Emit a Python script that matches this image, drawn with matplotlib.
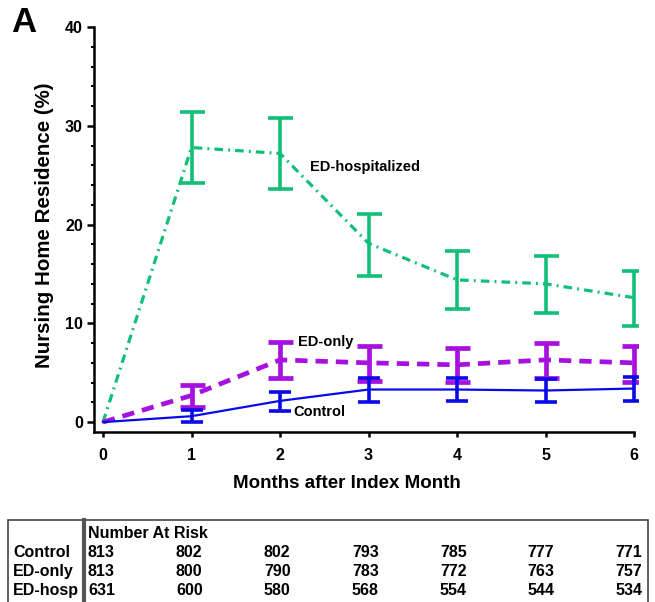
import matplotlib
matplotlib.use("Agg")
import matplotlib.pyplot as plt
from matplotlib.patches import Rectangle
from matplotlib.lines import Line2D
import numpy as np

plt.rcParams['font.family'] = ['Liberation Sans', 'DejaVu Sans']
plt.rcParams['font.weight'] = 'bold'

months = [0, 1, 2, 3, 4, 5, 6]

ctrl = [0, 0.6, 2.15, 3.3, 3.3, 3.2, 3.4]
ctrl_lo = [0, 0.03, 1.1, 2.0, 2.15, 2.0, 2.1]
ctrl_hi = [0, 1.2, 3.1, 4.5, 4.5, 4.4, 4.6]

edonly = [0, 2.7, 6.3, 6.0, 5.8, 6.3, 6.0]
edonly_lo = [0, 1.5, 4.5, 4.2, 4.1, 4.45, 4.1]
edonly_hi = [0, 3.8, 8.15, 7.7, 7.5, 8.05, 7.75]

edhosp = [0, 27.8, 27.2, 18.1, 14.4, 14.0, 12.6]
edhosp_lo = [0, 24.2, 23.6, 14.8, 11.5, 11.0, 9.7]
edhosp_hi = [0, 31.4, 30.8, 21.1, 17.3, 16.8, 15.3]

risk_rows = ["Control", "ED-only", "ED-hosp"]
risk_ctrl = [813, 802, 802, 793, 785, 777, 771]
risk_edonly = [813, 800, 790, 783, 772, 763, 757]
risk_edhosp = [631, 600, 580, 568, 554, 544, 534]

GREEN = '#12bf78'
PURPLE = '#a611e0'
BLUE = '#0a0ae8'

W, H = 655, 602
fig = plt.figure(figsize=(W/100, H/100), dpi=100)
left_px, right_px, top_px, bot_px = 94, 638, 27, 432
ax = fig.add_axes([left_px/W, 1-bot_px/H, (right_px-left_px)/W, (bot_px-top_px)/H])

def errs(c, lo, hi):
    c = np.array(c); lo = np.array(lo); hi = np.array(hi)
    return np.vstack([c-lo, hi-c])

idx = slice(1, None)
m = np.array(months)

# green
ax.plot(months, edhosp, color=GREEN, lw=2.3, linestyle=(0, (2.7, 1.6, 0.6, 1.6)), zorder=2)
ax.errorbar(m[idx], np.array(edhosp)[idx], yerr=errs(edhosp, edhosp_lo, edhosp_hi)[:, idx],
            fmt='none', ecolor=GREEN, elinewidth=2.6, capsize=9, capthick=2.6, zorder=2)
# purple
ax.plot(months, edonly, color=PURPLE, lw=3.4, linestyle=(0, (2.6, 1.7)), zorder=3)
ax.errorbar(m[idx], np.array(edonly)[idx], yerr=errs(edonly, edonly_lo, edonly_hi)[:, idx],
            fmt='none', ecolor=PURPLE, elinewidth=3.4, capsize=9, capthick=3.4, zorder=3)
# blue
ax.plot(months, ctrl, color=BLUE, lw=1.6, zorder=4)
ax.errorbar(m[idx], np.array(ctrl)[idx], yerr=errs(ctrl, ctrl_lo, ctrl_hi)[:, idx],
            fmt='none', ecolor=BLUE, elinewidth=2.6, capsize=8, capthick=2.6, zorder=4)

ax.text(2.34, 25.8, "ED-hospitalized", fontsize=10.5, fontweight='bold', va='center', ha='left')
ax.text(2.2, 8.1, "ED-only", fontsize=10.5, fontweight='bold', va='center', ha='left')
ax.text(2.15, 1.0, "Control", fontsize=10.5, fontweight='bold', va='center', ha='left')

x0px, x6px = 103, 634
ppu = (x6px - x0px) / 6
ax.set_xlim(0 - (x0px-left_px)/ppu, 6 + (right_px-x6px)/ppu)
ax.set_ylim(-1.0, 40)
ax.set_xticks(months)
ax.set_yticks([0, 10, 20, 30, 40])
ax.set_yticks(np.arange(0, 41, 2), minor=True)
for s in ['top', 'right']:
    ax.spines[s].set_visible(False)
for s in ['left', 'bottom']:
    ax.spines[s].set_linewidth(1.8)
ax.spines['bottom'].set_bounds(ax.get_xlim()[0], 6.0)
ax.tick_params(axis='x', which='major', direction='out', width=1.8, length=3.5, labelsize=11.5, pad=8)
ax.tick_params(axis='y', which='major', direction='out', width=1.8, length=5, labelsize=11.5, pad=3)
ax.tick_params(axis='y', which='minor', direction='out', width=1.4, length=2.5)
for lab in ax.get_xticklabels() + ax.get_yticklabels():
    lab.set_fontweight('bold')
ax.set_xlabel("Months after Index Month", fontsize=13.5, fontweight='bold', labelpad=14)
ax.set_ylabel("Nursing Home Residence (%)", fontsize=14.8, fontweight='bold', labelpad=14)
ax.yaxis.set_label_coords((45 - left_px) / (right_px - left_px), 1 - (225 - top_px) / (bot_px - top_px))
ax.xaxis.set_label_coords((347 - left_px) / (right_px - left_px), -(484 - bot_px) / (bot_px - top_px))
ax.xaxis.label.set_va('center')
ax.yaxis.label.set_va('center')

fig.text(11/W, 1-22/H, "A", fontsize=25, fontweight='bold', ha='left', va='center')

# Number at risk table
fig.add_artist(Rectangle((8/W, -0.01), (648-8)/W, 1-520/H+0.01, transform=fig.transFigure,
                         fill=False, edgecolor='#444444', lw=1.2))
fig.add_artist(Line2D([83.5/W, 83.5/W], [-0.01, 1-520/H], transform=fig.transFigure,
                      color='#555555', lw=3))
fig.text(88/W, 1-534/H, "Number At Risk", fontsize=11.5, fontweight='bold', ha='left', va='center')
col_x = [88, 176, 264, 352, 440, 527, 615]
row_y = [552.5, 571.5, 590.5]
for r, (name, vals) in enumerate(zip(risk_rows, [risk_ctrl, risk_edonly, risk_edhosp])):
    fig.text(13/W, 1-row_y[r]/H, name, fontsize=11.5, fontweight='bold', ha='left', va='center')
    for c, v in enumerate(vals):
        fig.text(col_x[c]/W, 1-row_y[r]/H, str(v), fontsize=11.5, fontweight='bold', ha='left', va='center')

fig.savefig("out.png", dpi=100)
